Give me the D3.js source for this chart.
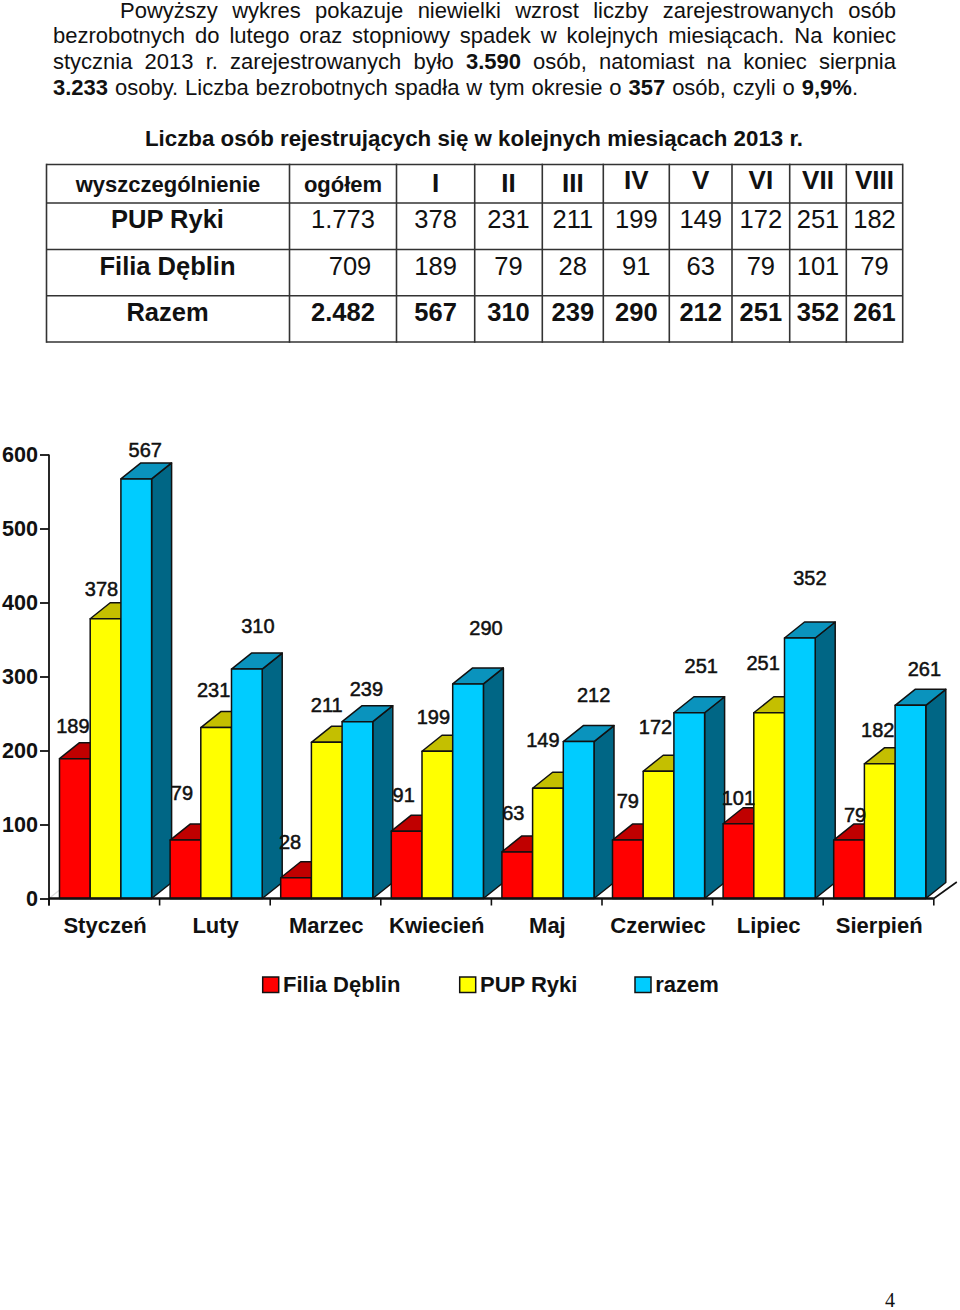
<!DOCTYPE html>
<html lang="pl"><head><meta charset="utf-8">
<script src="https://cdn.jsdelivr.net/npm/d3@7"></script>
<style>
html,body{margin:0;padding:0;background:#fff}
svg{display:block}
text{font-family:"Liberation Sans",Arial,sans-serif;fill:#111}
</style></head><body>
<svg id="c" width="960" height="1310"></svg>
<script>
// ---- data ----
const months = ["Styczeń","Luty","Marzec","Kwiecień","Maj","Czerwiec","Lipiec","Sierpień"];
const seriesNames = ["Filia Dęblin","PUP Ryki","razem"];
const filiaDeblin = [189,79,28,91,63,79,101,79];
const pupRyki = [378,231,211,199,149,172,251,182];
const razem = [567,310,239,290,212,251,352,261];
const yTicks = [0,100,200,300,400,500,600];

const tableHeader = ["wyszczególnienie","ogółem","I","II","III","IV","V","VI","VII","VIII"];
const rowLabels = ["PUP Ryki","Filia Dęblin","Razem"];
const rowTotals = ["1.773","709","2.482"];

const paragraph = [
 [["Powyższy wykres pokazuje niewielki wzrost liczby zarejestrowanych osób",0]],
 [["bezrobotnych do lutego oraz stopniowy spadek w kolejnych miesiącach. Na koniec",0]],
 [["stycznia 2013 r. zarejestrowanych było ",0],["3.590",1],[" osób, natomiast na koniec sierpnia",0]],
 [["3.233",1],[" osoby. Liczba bezrobotnych spadła w tym okresie o ",0],["357",1],[" osób, czyli o ",0],["9,9%",1],[".",0]]
];
const tableTitle = "Liczba osób rejestrujących się w kolejnych miesiącach 2013 r.";
const pageNumber = "4";

// hand-placed data label nudges, relative to each bar's top centre
const labelDx = [[-2,-3.5,-6,-3,-4,0,0,6],[-4,-2.5,0,-4,-5,-3,-6,-2],[9,11,9,18,15,12,10,14]];
const labelDy = [[-26,-40,-29,-29,-32,-32,-19,-18],[-23,-31,-30,-27,-41,-37,-43,-27],[-22,-36,-26,-49,-40,-40,-53,-29]];

// ---- layout ----
const svg = d3.select("#c");
const seriesValues = [filiaDeblin,pupRyki,razem];
const FILL = ["#ff0000","#ffff00","#00ccff"];
const TOP = ["#c00000","#c4bf00","#0a93bd"];
const SIDE = ["#800000","#808000","#006685"];
const INK = "#111";

// paragraph
const lineX = [120,53,53,53], lineY = [18,43,69,94.5], lineEnd = [896,896,896,858];
paragraph.forEach((runs,i)=>{
  const t = svg.append("text").attr("x",lineX[i]).attr("y",lineY[i]).style("font-size","22px").attr("xml:space","preserve").style("white-space","pre");
  runs.forEach(r=>t.append("tspan").text(r[0]).style("font-weight",r[1]?"700":"400"));
  const w = t.node().getComputedTextLength();
  const spaces = runs.map(r=>r[0]).join("").split(" ").length-1;
  t.style("word-spacing",((lineEnd[i]-lineX[i]-w)/spaces)+"px");
});
svg.append("text").attr("x",474).attr("y",146).attr("text-anchor","middle")
  .style("font-size","22.3px").style("font-weight","700").text(tableTitle);

// table
const colX = [46.5,289.5,396.5,474.7,542.3,603.3,669.3,732,789.7,846.3,902.7];
const rowY = [164.5,203,249.5,295.7,342];
const grid = svg.append("g").attr("stroke","#333").attr("stroke-width",1.6);
colX.forEach(x=>grid.append("line").attr("x1",x).attr("x2",x).attr("y1",rowY[0]-.8).attr("y2",rowY[4]+.8));
rowY.forEach(y=>grid.append("line").attr("x1",colX[0]).attr("x2",colX[10]).attr("y1",y).attr("y2",y));
const colC = i=>(colX[i]+colX[i+1])/2;
tableHeader.forEach((h,i)=>{
  svg.append("text").attr("x",colC(i)).attr("y",i>=5?189:192).attr("text-anchor","middle")
    .style("font-size",i<2?"22px":"26px").style("font-weight","700").text(h);
});
const rowBase = [228,274.5,320.5];
const tableRows = [pupRyki,filiaDeblin,razem];
rowLabels.forEach((r,ri)=>{
  const bold = ri===2;
  const cell = (x,s,w)=>svg.append("text").attr("x",x).attr("y",rowBase[ri]).attr("text-anchor","middle")
     .style("font-size","25.5px").style("font-weight",w?"700":"400").text(s);
  cell(colC(0)-0.5,r,true);
  cell(colC(1)+(ri===1?7:0),rowTotals[ri],bold);
  tableRows[ri].forEach((v,i)=>cell(colC(i+2),v,bold));
});

// chart
const y = d3.scaleLinear().domain([0,600]).range([898.5,454.5]);
const x0 = d3.scaleBand().domain(months).range([49,933.8]);
const x1 = d3.scaleBand().domain(seriesNames).range([10.5,102.6]);
const depthX = 20, depthY = 16;
const base = y(0);

// floor edges
svg.append("line").attr("x1",49).attr("y1",base).attr("x2",49+depthX).attr("y2",base-depthY).attr("stroke","#ddd").attr("stroke-width",1.5);
svg.append("line").attr("x1",x0.range()[1]).attr("y1",base).attr("x2",x0.range()[1]+23).attr("y2",base-16.5).attr("stroke",INK).attr("stroke-width",1.6);

const bars = svg.append("g").attr("stroke",INK).attr("stroke-width",1.5).attr("stroke-linejoin","round");
months.forEach((m,i)=>{
  seriesNames.forEach((s,k)=>{
    const v = seriesValues[k][i];
    const l = x0(m)+x1(s), r = l+x1.bandwidth(), t = y(v);
    bars.append("path").attr("fill",SIDE[k]).attr("d",`M${r},${base}L${r+depthX},${base-depthY}L${r+depthX},${t-depthY}L${r},${t}Z`);
    bars.append("path").attr("fill",TOP[k]).attr("d",`M${l},${t}L${l+depthX},${t-depthY}L${r+depthX},${t-depthY}L${r},${t}Z`);
    bars.append("rect").attr("fill",FILL[k]).attr("x",l).attr("y",t).attr("width",r-l).attr("height",base-t);
  });
});

// axes
const yAxis = d3.axisLeft(y).tickValues(yTicks).tickSize(9).tickPadding(2);
const gy = svg.append("g").attr("transform","translate(49,0)").call(yAxis);
const xAxis = d3.axisBottom(x0).tickSize(0).tickPadding(18.5);
const gx = svg.append("g").attr("transform",`translate(0,${base})`).call(xAxis);
[gy,gx].forEach(g=>{
  g.attr("font-family",null).attr("font-size",null);
  g.selectAll("path,line").attr("stroke",INK).attr("stroke-width",1.8);
  g.selectAll("text").attr("fill",INK).style("font-size","22px").style("font-weight","700");
});
gy.selectAll("text").style("font-size","21.6px");
gy.select(".domain").attr("d",`M0,${y(600)}H-0V${base+7}`);
gx.select(".domain").attr("d",`M49,0H${x0.range()[1]}`).attr("stroke-width",2.4);
gx.selectAll(".tick text").attr("dy","0.71em").attr("dx",0.7);
const edges = months.map(m=>x0(m)).concat([x0.range()[1]]);
gx.selectAll(".edge").data(edges).join("line").attr("class","edge")
  .attr("x1",d=>d).attr("x2",d=>d).attr("y1",0).attr("y2",7).attr("stroke",INK).attr("stroke-width",1.6);

// data labels
seriesNames.forEach((s,k)=>{
  months.forEach((m,i)=>{
    const v = seriesValues[k][i];
    svg.append("text").attr("x",x0(m)+x1(s)+x1.bandwidth()/2+labelDx[k][i]).attr("y",y(v)+labelDy[k][i])
      .attr("text-anchor","middle").style("font-size","20px").style("font-weight","400")
      .style("stroke","#111").style("stroke-width","0.5px").text(v);
  });
});

// legend
const legendX = [262.7,459.7,635];
seriesNames.forEach((s,k)=>{
  svg.append("rect").attr("x",legendX[k]).attr("y",977).attr("width",16).attr("height",15.5)
    .attr("fill",FILL[k]).attr("stroke",INK).attr("stroke-width",1.5);
  svg.append("text").attr("x",legendX[k]+20.3).attr("y",992).style("font-size","22px").style("font-weight","700").text(s);
});

// page number
svg.append("text").attr("x",890).attr("y",1307).attr("text-anchor","middle")
  .style("font-family","'Liberation Serif',serif").style("font-size","20px").text(pageNumber);
</script>
</body></html>
